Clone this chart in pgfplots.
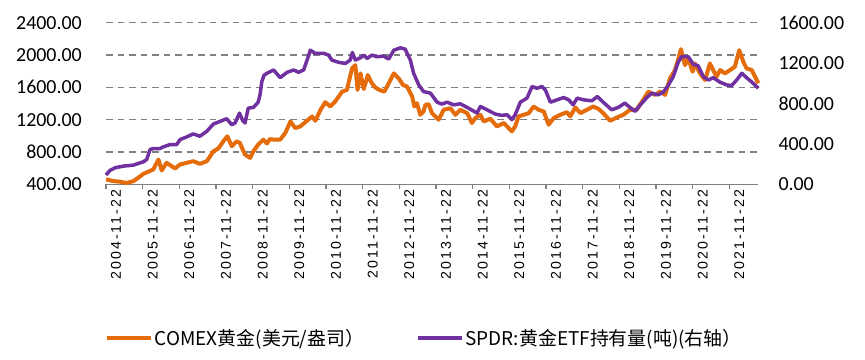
\documentclass[border=0pt]{standalone}
\usepackage{fontspec}
\usepackage{pgfplots}
\pgfplotsset{compat=1.18}
\setmainfont{Carlito}
\newfontfamily\xfont[LetterSpace=15]{Liberation Sans}
\newfontfamily\cjk{Noto Sans CJK SC}
\definecolor{goldc}{RGB}{228,108,10}
\definecolor{spdr}{RGB}{112,48,160}
\definecolor{gridg}{RGB}{128,128,128}

\pgfplotstableread{
t v
0 461
0.2 440
0.38 432
0.56 416
0.75 440
0.88 481
1.02 530
1.15 555
1.29 584
1.43 707
1.52 571
1.65 666
1.79 625
1.88 596
2.02 645
2.2 666
2.38 686
2.56 653
2.75 686
2.93 809
3.06 842
3.2 932
3.31 994
3.43 871
3.56 932
3.65 912
3.79 768
3.93 727
4.02 809
4.15 891
4.29 953
4.39 905
4.47 960
4.57 953
4.75 953
4.89 1035
5.03 1178
5.16 1096
5.3 1117
5.48 1186
5.62 1240
5.71 1186
5.85 1322
5.98 1416
6.12 1363
6.25 1424
6.44 1547
6.57 1568
6.71 1834
6.8 1875
6.86 1568
6.94 1773
7.03 1580
7.14 1752
7.25 1650
7.35 1596
7.46 1568
7.59 1547
7.71 1650
7.85 1773
7.98 1711
8.1 1629
8.21 1609
8.35 1486
8.41 1363
8.48 1404
8.57 1260
8.66 1301
8.71 1383
8.8 1391
8.89 1281
9.07 1199
9.21 1322
9.39 1342
9.53 1260
9.66 1322
9.85 1281
9.98 1158
10.07 1219
10.21 1260
10.3 1178
10.48 1211
10.66 1117
10.85 1158
10.98 1096
11.07 1055
11.16 1117
11.25 1240
11.39 1260
11.53 1281
11.66 1363
11.8 1322
11.94 1301
12.07 1137
12.21 1219
12.39 1260
12.57 1293
12.66 1240
12.8 1350
12.94 1281
13.11 1322
13.29 1363
13.43 1334
13.56 1281
13.75 1186
13.93 1227
14.11 1260
14.29 1322
14.47 1322
14.65 1445
14.79 1547
14.97 1506
15.11 1547
15.25 1506
15.38 1711
15.52 1814
15.61 1957
15.68 2072
15.79 1875
15.88 1957
16.0 1793
16.06 1896
16.2 1773
16.34 1691
16.47 1896
16.56 1814
16.65 1732
16.75 1814
16.88 1773
17.02 1814
17.15 1855
17.27 2060
17.38 1916
17.47 1834
17.61 1814
17.7 1732
17.79 1650
}\goldtable

\pgfplotstableread{
t w
0 92
0.11 138
0.25 164
0.47 180
0.75 190
0.88 207
1.02 223
1.11 246
1.2 344
1.29 354
1.47 354
1.56 370
1.75 394
1.93 394
2.02 443
2.2 469
2.38 499
2.56 476
2.75 525
2.93 597
3.11 623
3.29 649
3.43 590
3.52 607
3.64 705
3.73 630
3.79 607
3.88 754
4.02 761
4.15 813
4.2 886
4.25 1017
4.31 1080
4.39 1099
4.57 1132
4.75 1056
4.94 1109
5.12 1132
5.25 1109
5.39 1132
5.53 1279
5.57 1328
5.71 1296
5.94 1296
6.07 1279
6.16 1230
6.35 1207
6.53 1197
6.66 1230
6.72 1305
6.8 1230
6.94 1253
7.03 1279
7.12 1246
7.25 1279
7.39 1263
7.57 1269
7.71 1240
7.85 1328
8.03 1351
8.16 1338
8.3 1230
8.39 1099
8.53 984
8.66 918
8.85 902
9.03 813
9.16 794
9.3 813
9.48 787
9.66 797
9.85 761
10.04 722
10.12 705
10.21 771
10.39 738
10.62 695
10.8 682
10.94 689
11.07 640
11.16 689
11.3 813
11.48 853
11.62 968
11.75 951
11.89 968
11.98 935
12.12 813
12.3 836
12.48 859
12.62 836
12.74 787
12.85 853
13.03 836
13.25 827
13.4 869
13.56 813
13.79 738
13.97 761
14.15 804
14.29 761
14.43 722
14.56 781
14.75 859
14.88 902
15.06 886
15.2 912
15.34 984
15.47 1066
15.61 1214
15.7 1263
15.88 1263
16.02 1187
16.15 1174
16.29 1066
16.43 1033
16.56 1056
16.75 1010
16.93 984
17.06 977
17.2 1033
17.34 1099
17.47 1056
17.65 1000
17.79 951
}\spdrtable

\begin{document}
\begin{tikzpicture}[x=1bp,y=1bp]
\path[use as bounding box] (0,0) rectangle (865,359);
\begin{axis}[
  at={(106bp,174.7bp)}, anchor=south west,
  scale only axis, width=652.3bp, height=161.6bp,
  xmin=0, xmax=17.79, ymin=400, ymax=2400,
  axis x line*=bottom, axis y line*=left,
  y axis line style={draw=none},
  x axis line style={gridg, line width=1.5bp},
  xtick={0,1,...,17},
  xticklabels={2004-11-22,2005-11-22,2006-11-22,2007-11-22,2008-11-22,2009-11-22,2010-11-22,2011-11-22,2012-11-22,2013-11-22,2014-11-22,2015-11-22,2016-11-22,2017-11-22,2018-11-22,2019-11-22,2020-11-22,2021-11-22},
  xtick style={gridg, line width=1.2bp},
  tick align=outside, major tick length=5bp,
  ytick={400,800,...,2400},
  ytick style={draw=none},
  ymajorgrids,
  grid style={gridg, dash pattern=on 6.5bp off 5bp, line width=1.5bp},
  yticklabel={\pgfmathprintnumber[fixed,fixed zerofill,precision=2,1000 sep={},assume math mode=true]{\tick}},
  yticklabel style={font=\fontsize{20}{20}\selectfont, inner sep=0pt, xshift=-19bp},
  xticklabel style={rotate=90, anchor=east, inner sep=0pt, yshift=-10bp, font=\xfont\fontsize{14.2}{14.2}\selectfont},
  clip=false,
]
\addplot[goldc, line width=4bp, line join=round] table[x=t,y=v] {\goldtable};
\end{axis}
\begin{axis}[
  at={(106bp,174.7bp)}, anchor=south west,
  scale only axis, width=652.3bp, height=161.6bp,
  xmin=0, xmax=17.79, ymin=0, ymax=1600,
  axis x line=none, axis y line*=right,
  y axis line style={draw=none},
  ytick={0,400,...,1600},
  ytick style={draw=none},
  major tick length=0pt,
  yticklabel={\pgfmathprintnumber[fixed,fixed zerofill,precision=2,1000 sep={},assume math mode=true]{\tick}},
  yticklabel style={font=\fontsize{20}{20}\selectfont, inner sep=0pt, xshift=20bp, anchor=west},
  legend style={at={(0.488,-0.951)}, anchor=center, draw=none, fill=none,
    font=\cjk\fontsize{19}{19}\selectfont, inner sep=0pt,
    /tikz/every even column/.append style={column sep=50bp}},
  legend columns=2,
  legend cell align=left,
  legend image code/.code={\draw[#1] (0bp,0bp) -- (44bp,0bp);},
  clip=false,
]
\addlegendimage{goldc, line width=4bp}
\addlegendentry{COMEX黄金(美元/盎司）}
\addplot[spdr, line width=3.5bp, line join=round] table[x=t,y=w] {\spdrtable};
\addlegendentry{SPDR:黄金ETF持有量(吨)(右轴）}
\end{axis}
\end{tikzpicture}
\end{document}
